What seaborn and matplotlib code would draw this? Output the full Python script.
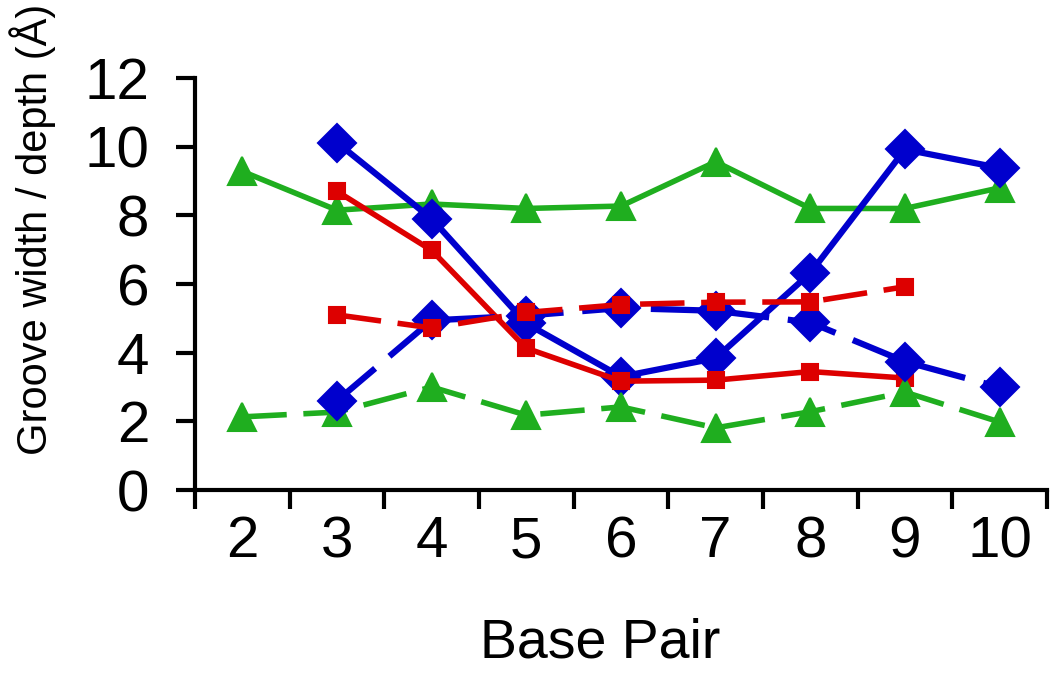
import numpy as np
import pandas as pd
import matplotlib
matplotlib.use("Agg")
import matplotlib.pyplot as plt
import seaborn as sns

# data
base_pairs = [2, 3, 4, 5, 6, 7, 8, 9, 10]
green_solid = [9.28, 8.15, 8.33, 8.2, 8.27, 9.56, 8.2, 8.2, 8.8]
green_dash = [2.13, 2.27, 3.0, 2.18, 2.42, 1.81, 2.28, 2.85, 1.98]
blue_x = [3, 4, 5, 6, 7, 8, 9, 10]
blue_solid = [10.12, 7.9, 4.85, 3.3, 3.84, 6.32, 9.92, 9.38]
blue_dash = [2.6, 4.94, 5.08, 5.3, 5.22, 4.88, 3.74, 2.99]
red_x = [3, 4, 5, 6, 7, 8, 9]
red_solid = [8.7, 6.98, 4.13, 3.17, 3.2, 3.45, 3.26]
red_dash = [5.1, 4.72, 5.17, 5.4, 5.47, 5.48, 5.92]

GREEN = "#1fae1f"
BLUE = "#0000cd"
RED = "#dd0000"

sns.set_style("white")
plt.rcParams["font.family"] = ["Liberation Sans", "DejaVu Sans"]
plt.rcParams["text.color"] = "black"
plt.rcParams["axes.labelcolor"] = "black"
plt.rcParams["xtick.color"] = "black"
plt.rcParams["ytick.color"] = "black"

fig = plt.figure(figsize=(10.5, 6.8), dpi=100)
ax = fig.add_axes([195 / 1050, 1 - 490 / 680, 852 / 1050, 412 / 680])

dash = (0, (8, 3))
series = [
    (base_pairs, green_solid, GREEN, "^", 20, "-", 4),
    (blue_x, blue_solid, BLUE, "D", 19, "-", 4.5),
    (red_x, red_solid, RED, "s", 12, "-", 4),
    (base_pairs, green_dash, GREEN, "^", 20, dash, 4),
    (blue_x, blue_dash, BLUE, "D", 19, dash, 4.5),
    (red_x, red_dash, RED, "s", 12, dash, 4),
]
for xs, ys, col, mk, ms, ls, lw in series:
    sns.lineplot(x=xs, y=ys, ax=ax, color=col, marker=mk, markersize=ms,
                 markeredgecolor=col, markeredgewidth=1.5, linewidth=lw,
                 linestyle=ls, sort=False, errorbar=None)

ax.set_xlim(1.5, 10.5)
ax.set_ylim(0, 12)
ax.set_yticks(np.arange(0, 13, 2))
ax.set_xticks(np.arange(1.5, 10.6, 1))
ax.set_xticklabels([])
ax.set_xticks(base_pairs, minor=True)
ax.set_xticklabels([str(b) for b in base_pairs], minor=True)

for s in ["top", "right"]:
    ax.spines[s].set_visible(False)
for s in ["left", "bottom"]:
    ax.spines[s].set_linewidth(3)
    ax.spines[s].set_color("black")

ax.tick_params(axis="both", which="major", direction="out", length=14, width=3,
               color="black", labelsize=42)
ax.tick_params(axis="y", which="major", left=True, pad=19)
ax.tick_params(axis="x", which="major", bottom=True)
ax.tick_params(axis="x", which="minor", bottom=True, length=0, labelsize=42, pad=18)

ax.set_xlabel("Base Pair", fontsize=40)
ax.xaxis.set_label_coords(0.475, -0.31)
ax.set_ylabel("Groove width / depth (Å)", fontsize=30)
ax.yaxis.set_label_coords(-0.163, 0.632)

fig.savefig("out.png", dpi=100)
